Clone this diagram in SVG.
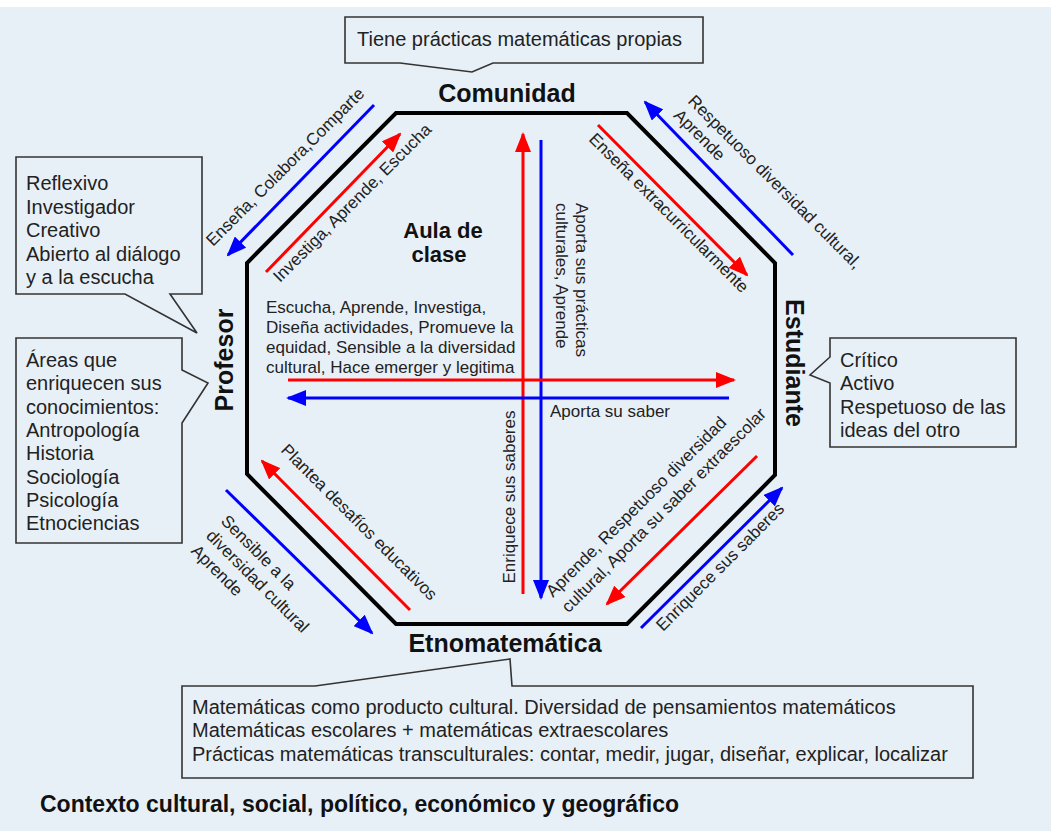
<svg xmlns="http://www.w3.org/2000/svg" width="1051" height="831" viewBox="0 0 1051 831">
<defs>
<style>
.t{font-family:"Liberation Sans",Arial,sans-serif;fill:#222;font-size:17px}
.c{font-family:"Liberation Sans",Arial,sans-serif;fill:#222;font-size:20px}
.b{font-family:"Liberation Sans",Arial,sans-serif;fill:#111;font-weight:bold}
.call{fill:#e8f0f7;stroke:#333;stroke-width:1.6}
.r{stroke:#ff0000;stroke-width:3;fill:none}
.bl{stroke:#0000ff;stroke-width:3;fill:none}
</style>
<marker id="ar" viewBox="0 0 20 16" refX="18" refY="8" markerWidth="20" markerHeight="16" markerUnits="userSpaceOnUse" orient="auto"><path d="M0,0 L20,8 L0,16 Z" fill="#ff0000"/></marker>
<marker id="ab" viewBox="0 0 20 16" refX="18" refY="8" markerWidth="20" markerHeight="16" markerUnits="userSpaceOnUse" orient="auto"><path d="M0,0 L20,8 L0,16 Z" fill="#0000ff"/></marker>
</defs>
<rect x="0" y="0" width="1051" height="831" fill="#ffffff"/>
<rect x="0" y="7" width="1051" height="824" fill="#e8f0f7"/>

<g id="aula">
<polygon points="396,113 627,113 775,263 775,475 627,624 396,624 247,474 247,263" fill="none" stroke="#000" stroke-width="4" stroke-linejoin="miter"/>
<text class="b" font-size="22" x="443" y="238" text-anchor="middle">Aula de</text>
<text class="b" font-size="22" x="439" y="262" text-anchor="middle">clase</text>
<text class="t" x="266" y="313">Escucha, Aprende, Investiga,</text>
<text class="t" x="266" y="333">Diseña actividades, Promueve la</text>
<text class="t" x="266" y="353">equidad, Sensible a la diversidad</text>
<text class="t" x="266" y="373">cultural, Hace emerger y legitima</text>
</g>

<g id="comunidad">
<text class="b" font-size="25" x="507" y="102" text-anchor="middle">Comunidad</text>
</g>
<g id="etnomatematica">
<text class="b" font-size="25" x="505" y="652" text-anchor="middle">Etnomatemática</text>
</g>
<g id="profesor">
<text class="b" font-size="25" transform="translate(233,360) rotate(-90)" text-anchor="middle">Profesor</text>
</g>
<g id="estudiante">
<text class="b" font-size="25" transform="translate(786,363) rotate(90)" text-anchor="middle">Estudiante</text>
</g>

<g id="callout-comunidad">
<path class="call" d="M345,17 H703 V63 H493 L472,72 L400,63 H345 Z"/>
<text class="c" x="357" y="46">Tiene prácticas matemáticas propias</text>
</g>
<g id="callout-profesor-1">
<path class="call" d="M16,157 H202 V294 H170 L197,333 L125,294 H16 Z"/>
<text class="c" x="26" y="190">Reflexivo</text>
<text class="c" x="26" y="213.5">Investigador</text>
<text class="c" x="26" y="237">Creativo</text>
<text class="c" x="26" y="260.5">Abierto al diálogo</text>
<text class="c" x="26" y="284">y a la escucha</text>
</g>
<g id="callout-profesor-2">
<path class="call" d="M16,338 H182 V370 L208,383 L182,423 V543 H16 Z"/>
<text class="c" x="26" y="367">Áreas que</text>
<text class="c" x="26" y="390.3">enriquecen sus</text>
<text class="c" x="26" y="413.6">conocimientos:</text>
<text class="c" x="26" y="436.9">Antropología</text>
<text class="c" x="26" y="460.2">Historia</text>
<text class="c" x="26" y="483.5">Sociología</text>
<text class="c" x="26" y="506.8">Psicología</text>
<text class="c" x="26" y="530.1">Etnociencias</text>
</g>
<g id="callout-estudiante">
<path class="call" d="M830,338 H1016 V447 H830 V383 L810,375 L830,357 Z"/>
<text class="c" x="840" y="367">Crítico</text>
<text class="c" x="840" y="390.3">Activo</text>
<text class="c" x="840" y="413.6">Respetuoso de las</text>
<text class="c" x="840" y="436.9">ideas del otro</text>
</g>
<g id="callout-etnomatematica">
<path class="call" d="M182,686 H315 L510,659 L512,686 H973 V778 H182 Z"/>
<text class="c" x="192" y="714">Matemáticas como producto cultural. Diversidad de pensamientos matemáticos</text>
<text class="c" x="192" y="737.3">Matemáticas escolares + matemáticas extraescolares</text>
<text class="c" x="192" y="760.6">Prácticas matemáticas transculturales: contar, medir, jugar, diseñar, explicar, localizar</text>
</g>
<g id="contexto">
<text class="b" font-size="23" x="40" y="812">Contexto cultural, social, político, económico y geográfico</text>
</g>

<g id="connectors">
<line class="bl" x1="374" y1="105" x2="228" y2="255" marker-end="url(#ab)"/>
<line class="r" x1="266" y1="272" x2="400" y2="134" marker-end="url(#ar)"/>
<line class="bl" x1="793" y1="255" x2="645" y2="102" marker-end="url(#ab)"/>
<line class="r" x1="598" y1="125" x2="747" y2="275" marker-end="url(#ar)"/>
<line class="r" x1="410" y1="610" x2="262" y2="461" marker-end="url(#ar)"/>
<line class="bl" x1="226" y1="490" x2="372" y2="633" marker-end="url(#ab)"/>
<line class="r" x1="757" y1="456" x2="607" y2="604" marker-end="url(#ar)"/>
<line class="bl" x1="641" y1="628" x2="782" y2="488" marker-end="url(#ab)"/>
<line class="r" x1="523" y1="594" x2="523" y2="134" marker-end="url(#ar)"/>
<line class="bl" x1="541" y1="140" x2="541" y2="598" marker-end="url(#ab)"/>
<line class="r" x1="288" y1="380" x2="734" y2="380" marker-end="url(#ar)"/>
<line class="bl" x1="729" y1="398" x2="288" y2="398" marker-end="url(#ab)"/>
</g>

<g id="connector-labels">
<text class="t" transform="translate(213,247) rotate(-45)">Enseña, Colabora,Comparte</text>
<text class="t" transform="translate(280,283) rotate(-45)">Investiga, Aprende, Escucha</text>
<text class="t" transform="translate(687,102) rotate(45)"><tspan x="0" y="0">Respetuoso diversidad cultural,</tspan><tspan x="0" y="20">Aprende</tspan></text>
<text class="t" transform="translate(588,140) rotate(45)">Enseña extracurricularmente</text>
<text class="t" transform="translate(280,451) rotate(45)">Plantea desafíos educativos</text>
<text class="t" transform="translate(220,522) rotate(45)"><tspan x="0" y="0">Sensible a la</tspan><tspan x="0" y="21">diversidad cultural</tspan><tspan x="0" y="42">Aprende</tspan></text>
<text class="t" transform="translate(553,598) rotate(-45)"><tspan x="0" y="0">Aprende, Respetuoso diversidad</tspan><tspan x="0" y="22">cultural, Aporta su saber extraescolar</tspan></text>
<text class="t" transform="translate(663,632) rotate(-45)">Enriquece sus saberes</text>
<text class="t" transform="translate(515,497) rotate(-90)" text-anchor="middle">Enriquece sus saberes</text>
<text class="t" transform="translate(576,203) rotate(90)"><tspan x="0" y="0">Aporta sus prácticas</tspan><tspan x="0" y="20">culturales, Aprende</tspan></text>
<text class="t" x="550" y="417">Aporta su saber</text>
</g>
</svg>
